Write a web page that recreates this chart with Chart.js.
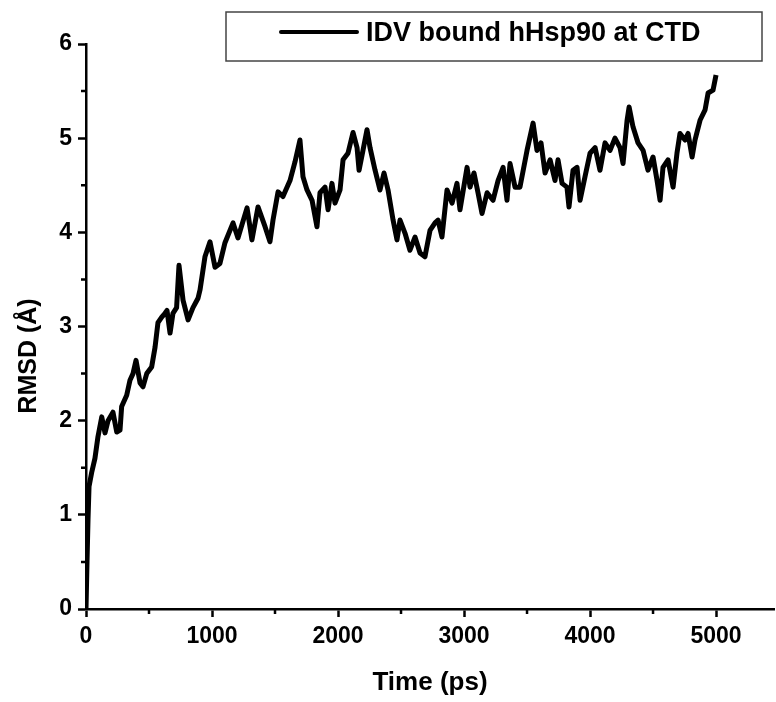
<!DOCTYPE html>
<html>
<head>
<meta charset="utf-8">
<script src="https://cdn.jsdelivr.net/npm/chart.js@4"></script>
<style>
  html, body { margin: 0; padding: 0; background: #fff; }
  #wrap { width: 776px; height: 702px; }
</style>
</head>
<body>
<div id="wrap"><canvas id="rmsd"></canvas></div>
<script>
// values (time in ps, RMSD in Angstrom)
var timePs = [0, 8, 16, 24, 45, 71, 95, 125, 151, 175, 214, 244, 270, 283, 323, 349, 373, 397, 429, 452,
  482, 521, 548, 571, 601, 627, 643, 667, 690, 719, 738, 770, 810, 849, 889, 905, 944, 984, 1024, 1063,
  1103, 1167, 1206, 1278, 1317, 1365, 1421, 1460, 1484, 1524, 1563, 1619, 1659, 1698, 1722, 1754, 1794, 1833, 1857, 1897,
  1921, 1952, 1976, 2016, 2040, 2079, 2119, 2151, 2167, 2198, 2230, 2254, 2294, 2333, 2365, 2397, 2437, 2468, 2492, 2532,
  2571, 2611, 2651, 2690, 2730, 2770, 2794, 2825, 2865, 2905, 2944, 2968, 3024, 3048, 3079, 3111, 3143, 3183, 3230, 3270,
  3310, 3341, 3365, 3405, 3444, 3500, 3548, 3579, 3611, 3643, 3683, 3722, 3746, 3778, 3817, 3833, 3865, 3897, 3921, 3960,
  4000, 4040, 4079, 4119, 4159, 4198, 4238, 4262, 4294, 4310, 4341, 4381, 4421, 4460, 4500, 4532, 4556, 4579, 4619, 4659,
  4690, 4714, 4754, 4778, 4810, 4833, 4873, 4913, 4937, 4976, 5000];
var rmsd = [0, 0.5, 0.95, 1.3, 1.45, 1.6, 1.83, 2.04, 1.87, 2.0, 2.09, 1.88, 1.9, 2.15, 2.27, 2.43, 2.5, 2.64, 2.4, 2.36,
  2.5, 2.57, 2.78, 3.04, 3.1, 3.14, 3.17, 2.93, 3.14, 3.2, 3.65, 3.28, 3.07, 3.2, 3.3, 3.39, 3.74, 3.9, 3.63, 3.67,
  3.89, 4.1, 3.94, 4.26, 3.92, 4.27, 4.06, 3.9, 4.13, 4.43, 4.38, 4.55, 4.75, 4.98, 4.59, 4.45, 4.34, 4.06, 4.42, 4.48,
  4.24, 4.52, 4.31, 4.45, 4.77, 4.84, 5.06, 4.9, 4.66, 4.87, 5.09, 4.9, 4.66, 4.45, 4.63, 4.45, 4.13, 3.92, 4.13, 3.99,
  3.81, 3.95, 3.78, 3.74, 4.02, 4.1, 4.13, 3.95, 4.45, 4.31, 4.52, 4.24, 4.69, 4.48, 4.63, 4.42, 4.2, 4.42, 4.34, 4.55,
  4.69, 4.34, 4.73, 4.48, 4.48, 4.87, 5.16, 4.87, 4.95, 4.63, 4.77, 4.55, 4.77, 4.52, 4.48, 4.27, 4.66, 4.69, 4.34, 4.59,
  4.84, 4.9, 4.66, 4.95, 4.87, 5.0, 4.9, 4.73, 5.19, 5.33, 5.12, 4.95, 4.87, 4.66, 4.8, 4.55, 4.34, 4.69, 4.77, 4.48,
  4.84, 5.05, 4.98, 5.05, 4.8, 4.98, 5.19, 5.3, 5.48, 5.51, 5.67];
var xTickValues = [0, 1000, 2000, 3000, 4000, 5000];
var yTickValues = [0, 1, 2, 3, 4, 5, 6];
var seriesName = 'IDV bound hHsp90 at CTD';
var xTitle = 'Time (ps)';
var yTitle = 'RMSD (\u00C5)';

var points = timePs.map(function (t, i) { return { x: t, y: rmsd[i] }; });
var boldFont = 'Liberation Sans, Arial, sans-serif';

// short minor ticks half way between the labelled ones
var minorTicks = {
  id: 'minorTicks',
  afterDraw: function (chart) {
    var c = chart.ctx, xs = chart.scales.x, ys = chart.scales.y;
    c.save();
    c.strokeStyle = '#000';
    c.lineWidth = 2.5;
    c.beginPath();
    for (var v = 500; v <= 5500; v += 1000) {
      var px = xs.getPixelForValue(v);
      c.moveTo(px, xs.top); c.lineTo(px, xs.top + 5);
    }
    for (var w = 0.5; w < 6; w += 1) {
      var py = ys.getPixelForValue(w);
      c.moveTo(ys.right, py); c.lineTo(ys.right - 5, py);
    }
    c.stroke();
    // y axis title, sits a bit below the middle in the original
    c.translate(29, 356);
    c.rotate(-Math.PI / 2);
    c.fillStyle = '#000';
    c.font = 'bold 25px ' + boldFont;
    c.textAlign = 'center';
    c.textBaseline = 'middle';
    c.fillText(yTitle, 0, 0);
    c.restore();
  }
};

// legend box drawn inside the plot, top right
var boxLegend = {
  id: 'boxLegend',
  afterDraw: function (chart) {
    var c = chart.ctx;
    c.save();
    c.strokeStyle = '#444';
    c.lineWidth = 1.5;
    c.strokeRect(226, 12, 536, 49);
    c.strokeStyle = '#000';
    c.lineWidth = 4;
    c.lineCap = 'round';
    c.beginPath();
    c.moveTo(281, 32); c.lineTo(357, 32);
    c.stroke();
    c.fillStyle = '#000';
    c.font = 'bold 27px ' + boldFont;
    c.textBaseline = 'middle';
    c.fillText(chart.data.datasets[0].label, 366, 34);
    c.restore();
  }
};

var ctx = document.getElementById('rmsd').getContext('2d');
var rmsdChart = new Chart(ctx, {
  type: 'line',
  data: {
    datasets: [{
      label: seriesName,
      data: points,
      borderColor: '#000',
      borderWidth: 5,
      borderJoinStyle: 'round',
      pointRadius: 0,
      tension: 0,
      fill: false
    }]
  },
  options: {
    responsive: true,
    maintainAspectRatio: false,
    animation: false,
    layout: { padding: { top: 44, right: 2, left: 0, bottom: 0 } },
    plugins: {
      legend: { display: false },
      tooltip: { enabled: false }
    },
    scales: {
      x: {
        type: 'linear',
        min: 0,
        max: 5460,
        border: { color: '#000', width: 2.5 },
        grid: { drawOnChartArea: false, tickLength: 8, tickColor: '#000', tickWidth: 2.5 },
        ticks: {
          color: '#000',
          padding: 6,
          maxRotation: 0,
          autoSkip: false,
          font: { family: boldFont, size: 23, weight: 'bold' },
          callback: function (v) { return String(v); }
        },
        afterBuildTicks: function (s) {
          s.ticks = xTickValues.map(function (v) { return { value: v }; });
        },
        title: {
          display: true,
          text: xTitle,
          color: '#000',
          padding: { top: 12 },
          font: { family: boldFont, size: 26, weight: 'bold' }
        },
        afterFit: function (s) { s.height = 93; }
      },
      y: {
        min: 0,
        max: 6,
        border: { color: '#000', width: 2.5 },
        grid: { drawOnChartArea: false, tickLength: 8, tickColor: '#000', tickWidth: 2.5 },
        ticks: {
          color: '#000',
          padding: 6,
          autoSkip: false,
          font: { family: boldFont, size: 23, weight: 'bold' },
          callback: function (v) { return String(v); }
        },
        afterBuildTicks: function (s) {
          s.ticks = yTickValues.map(function (v) { return { value: v }; });
        },
        afterFit: function (s) { s.width = 86; }
      }
    }
  },
  plugins: [minorTicks, boxLegend]
});
</script>
</body>
</html>
